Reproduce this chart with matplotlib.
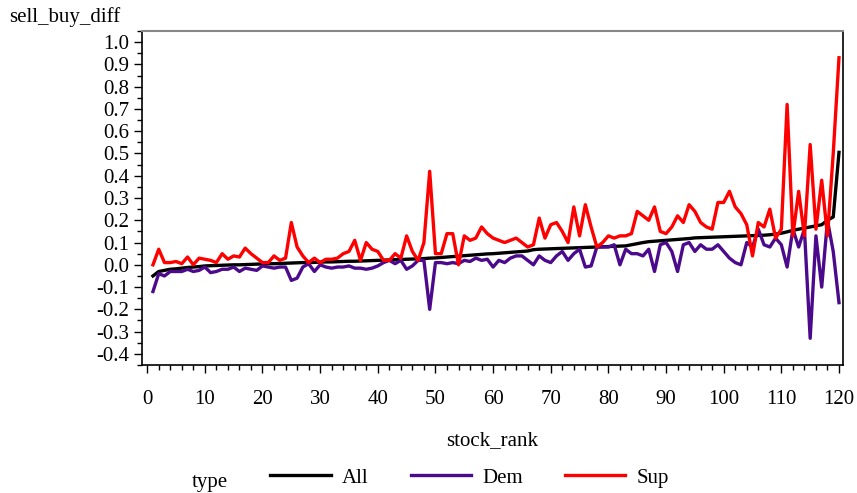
import matplotlib
matplotlib.use('Agg')
import matplotlib.pyplot as plt
from matplotlib.ticker import MultipleLocator, FormatStrFormatter

plt.rcParams['font.family'] = 'Liberation Serif'
plt.rcParams['font.size'] = 15
plt.rcParams['axes.unicode_minus'] = False

stock_rank = list(range(1, 121))

all_diff = [
    -0.050, -0.030, -0.025, -0.020, -0.018, -0.015, -0.012, -0.010, -0.008, -0.005,
    -0.004, -0.003, -0.002, -0.001, 0.000, 0.000, 0.001, 0.002, 0.003, 0.004,
    0.005, 0.005, 0.006, 0.007, 0.008, 0.009, 0.010, 0.010, 0.011, 0.012,
    0.013, 0.013, 0.014, 0.015, 0.016, 0.016, 0.017, 0.018, 0.019, 0.020,
    0.021, 0.022, 0.023, 0.024, 0.025, 0.026, 0.027, 0.028, 0.030, 0.031,
    0.033, 0.035, 0.037, 0.039, 0.041, 0.043, 0.045, 0.047, 0.049, 0.050,
    0.052, 0.054, 0.056, 0.058, 0.060, 0.062, 0.068, 0.070, 0.071, 0.072,
    0.073, 0.074, 0.075, 0.076, 0.077, 0.078, 0.079, 0.080, 0.081, 0.082,
    0.083, 0.084, 0.085, 0.090, 0.095, 0.100, 0.104, 0.106, 0.108, 0.110,
    0.112, 0.114, 0.116, 0.118, 0.121, 0.122, 0.123, 0.124, 0.125, 0.126,
    0.127, 0.128, 0.129, 0.130, 0.131, 0.132, 0.133, 0.135, 0.138, 0.142,
    0.148, 0.155, 0.160, 0.165, 0.170, 0.175, 0.180, 0.200, 0.215, 0.505,
]

dem_diff = [
    -0.12, -0.04, -0.05, -0.03, -0.03, -0.03, -0.02, -0.03, -0.025, -0.01,
    -0.035, -0.03, -0.02, -0.02, -0.01, -0.03, -0.015, -0.02, -0.025, -0.005,
    -0.01, -0.015, -0.01, -0.01, -0.07, -0.06, -0.01, 0.005, -0.03, 0.0,
    -0.01, -0.015, -0.01, -0.01, -0.005, -0.015, -0.015, -0.02, -0.015, -0.005,
    0.01, 0.02, 0.005, 0.02, -0.02, -0.005, 0.02, 0.02, -0.20, 0.01,
    0.01, 0.005, 0.01, 0.005, 0.02, 0.015, 0.03, 0.02, 0.025, -0.01,
    0.02, 0.01, 0.03, 0.04, 0.04, 0.02, 0.0, 0.04, 0.02, 0.01,
    0.04, 0.06, 0.02, 0.05, 0.07, -0.01, -0.005, 0.08, 0.08, 0.08,
    0.09, 0.0, 0.07, 0.05, 0.05, 0.04, 0.07, -0.03, 0.09, 0.10,
    0.06, -0.03, 0.09, 0.10, 0.06, 0.09, 0.07, 0.07, 0.09, 0.06,
    0.03, 0.01, 0.0, 0.10, 0.08, 0.16, 0.09, 0.08, 0.12, 0.09,
    -0.01, 0.16, 0.08, 0.16, -0.33, 0.13, -0.10, 0.20, 0.06, -0.17,
]

sup_diff = [
    0.0, 0.07, 0.01, 0.01, 0.015, 0.005, 0.035, 0.0, 0.03, 0.025,
    0.02, 0.01, 0.05, 0.025, 0.04, 0.035, 0.075, 0.05, 0.03, 0.01,
    0.01, 0.04, 0.02, 0.03, 0.19, 0.08, 0.04, 0.01, 0.03, 0.01,
    0.025, 0.025, 0.03, 0.05, 0.06, 0.11, 0.02, 0.10, 0.07, 0.06,
    0.02, 0.02, 0.05, 0.03, 0.13, 0.06, 0.02, 0.10, 0.42, 0.05,
    0.05, 0.14, 0.14, 0.0, 0.13, 0.11, 0.12, 0.17, 0.14, 0.12,
    0.11, 0.10, 0.11, 0.12, 0.10, 0.08, 0.09, 0.21, 0.12, 0.18,
    0.19, 0.15, 0.10, 0.26, 0.13, 0.27, 0.17, 0.08, 0.10, 0.13,
    0.12, 0.13, 0.13, 0.14, 0.24, 0.22, 0.20, 0.26, 0.15, 0.14,
    0.17, 0.22, 0.19, 0.27, 0.24, 0.19, 0.17, 0.16, 0.28, 0.28,
    0.33, 0.26, 0.23, 0.18, 0.04, 0.19, 0.17, 0.25, 0.12, 0.16,
    0.72, 0.13, 0.33, 0.13, 0.54, 0.16, 0.38, 0.13, 0.50, 0.93,
]

series = [
    ('All', all_diff, 'black'),
    ('Dem', dem_diff, '#4b0a8c'),
    ('Sup', sup_diff, '#ff0000'),
]

fig = plt.figure(figsize=(8.57, 4.93), dpi=100)
ax = fig.add_axes([0.1657, 0.2596, 0.8180, 0.6775])

for name, vals, color in series:
    ax.plot(stock_rank, vals, color=color, linewidth=2.4, label=name)

ax.set_xlim(-0.9, 120.7)
ax.set_ylim(-0.45, 1.05)

ax.xaxis.set_major_locator(MultipleLocator(10))
ax.xaxis.set_minor_locator(MultipleLocator(2))
ax.yaxis.set_major_locator(MultipleLocator(0.1))
ax.yaxis.set_minor_locator(MultipleLocator(0.05))
ax.yaxis.set_major_formatter(FormatStrFormatter('%.1f'))
ax.set_yticks([v / 10 for v in range(-4, 11)])

ax.tick_params(which='major', direction='out', length=6, width=1, color='black')
ax.tick_params(which='minor', direction='out', length=3.5, width=1, color='black')
ax.tick_params(axis='x', pad=12)
ax.tick_params(axis='y', pad=3)

for side in ['left', 'bottom', 'right']:
    ax.spines[side].set_color('black')
    ax.spines[side].set_linewidth(1.2)
ax.spines['top'].set_color('#888888')
ax.spines['top'].set_linewidth(1.5)

ax.set_xlabel('stock_rank', labelpad=16)
fig.text(65 / 857, 1 - 17 / 493, 'sell_buy_diff', ha='center', va='center')

# legend row along the bottom
fig.text(210 / 857, 1 - 482 / 493, 'type', ha='center', va='center')
fig.legend(loc='center left', bbox_to_anchor=(262 / 857, 1 - 478 / 493), ncol=3,
           frameon=False, handlelength=2.9, handletextpad=0.55, columnspacing=2.0,
           borderaxespad=0)

fig.savefig('out.png', dpi=100)
